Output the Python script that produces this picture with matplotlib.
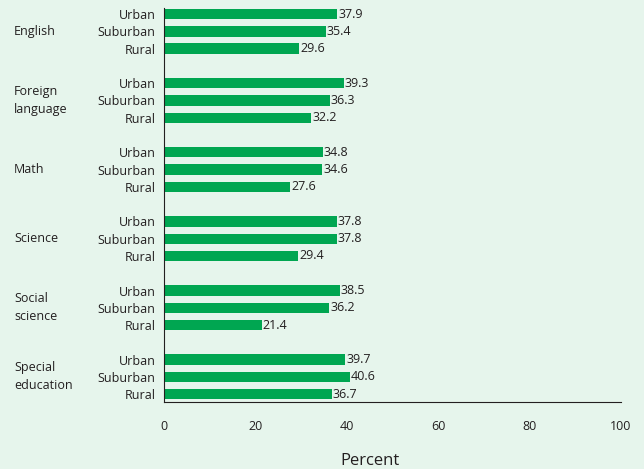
import numpy as np
import matplotlib.pyplot as plt
import matplotlib.transforms as mtransforms

plt.rcParams['font.family'] = ['Open Sans', 'DejaVu Sans']

subjects = ["English", "Foreign\nlanguage", "Math", "Science", "Social\nscience", "Special\neducation"]
locales = ["Urban", "Suburban", "Rural"]
urban = [37.9, 39.3, 34.8, 37.8, 38.5, 39.7]
suburban = [35.4, 36.3, 34.6, 37.8, 36.2, 40.6]
rural = [29.6, 32.2, 27.6, 29.4, 21.4, 36.7]

bg = "#e6f5ec"
bar_color = "#00a651"
text_color = "#231f20"

fig = plt.figure(figsize=(6.44, 4.69), dpi=100, facecolor=bg)
ax = fig.add_axes([164 / 644, 1 - 402 / 469, (621 - 164) / 644, (402 - 8) / 469])
ax.set_facecolor(bg)

positions = []
values = []
labels = []
for g in range(len(subjects)):
    for i, vals in enumerate([urban, suburban, rural]):
        positions.append(g * 4 + i)
        values.append(vals[g])
        labels.append(locales[i])

ax.barh(positions, values, height=0.6, color=bar_color)
for p, v in zip(positions, values):
    ax.text(v + 0.2, p, f"{v:.1f}", va="center", ha="left", fontsize=9, color=text_color)

ax.set_ylim(22.45, -0.35)
ax.set_xlim(0, 100)
ax.set_yticks(positions)
ax.set_yticklabels(labels, fontsize=9, color=text_color)
ax.set_xticks([0, 20, 40, 60, 80, 100])
ax.tick_params(axis="y", length=0, pad=6)
ax.tick_params(axis="x", length=0, pad=13, labelsize=9, labelcolor=text_color)
ax.spines["top"].set_visible(False)
ax.spines["right"].set_visible(False)
ax.spines["left"].set_color(text_color)
ax.spines["bottom"].set_color(text_color)

# subject names sit at the far left of the figure
trans = mtransforms.blended_transform_factory(fig.transFigure, ax.transData)
for g, name in enumerate(subjects):
    ax.text(14 / 644, g * 4 + 1, name, transform=trans, ha="left", va="center",
            fontsize=9, color=text_color, linespacing=1.5)

ax.set_xlabel("Percent", fontsize=12, color=text_color, labelpad=14)
ax.xaxis.set_label_coords(0.451, -0.13)

fig.savefig("out.png", dpi=100, facecolor=bg)
